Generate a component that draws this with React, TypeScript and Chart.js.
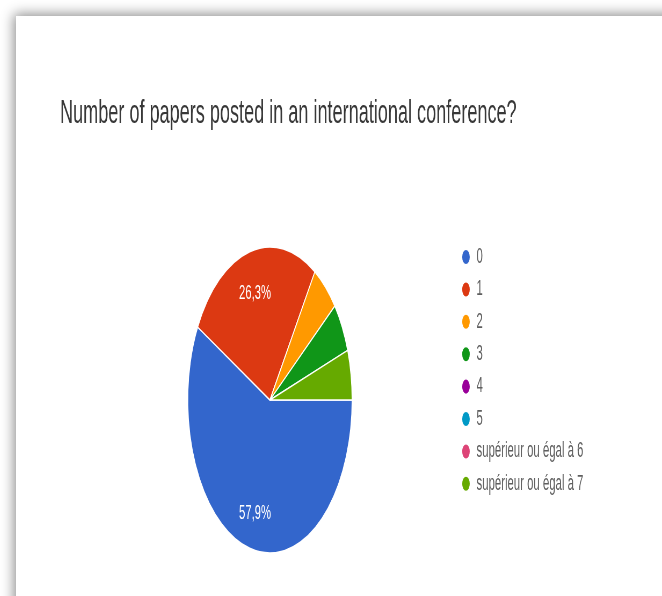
import React, { useEffect, useRef } from 'react';
import { Chart, registerables } from 'chart.js';

Chart.register(...registerables);

// ---- data ----
const TITLE = 'Number of papers posted in an international conference?';
const CATEGORIES = ['0', '1', '2', '3', '4', '5', 'supérieur ou égal à 6', 'supérieur ou égal à 7'];
const RESPONSES = [11, 5, 1, 1, 0, 0, 0, 1];
const SLICE_COLORS = ['#3366cc', '#dc3912', '#ff9900', '#109618', '#990099', '#0099c6', '#dd4477', '#66aa00'];

// ---- geometry (the reference picture is horizontally compressed) ----
const CSS_W = 646;
const CSS_H = 580;
const SQUISH = 0.537;
const INNER_W = Math.round(CSS_W / SQUISH);
const FONT = "'Liberation Sans', Arial, sans-serif";

const percentLabels = {
  id: 'percentLabels',
  afterDatasetsDraw(chart: any) {
    const ctx = chart.ctx;
    const meta = chart.getDatasetMeta(0);
    const data = chart.data.datasets[0].data as number[];
    const total = data.reduce((a, b) => a + b, 0);
    ctx.save();
    ctx.fillStyle = '#ffffff';
    ctx.font = `21px ${FONT}`;
    ctx.textAlign = 'center';
    ctx.textBaseline = 'middle';
    meta.data.forEach((arc: any, i: number) => {
      const v = data[i];
      if (!total || v / total < 0.1) return;
      const p = arc.getProps(['x', 'y', 'startAngle', 'endAngle', 'outerRadius'], true);
      const mid = (p.startAngle + p.endAngle) / 2;
      const r = p.outerRadius * 0.74;
      const txt = ((v / total) * 100).toFixed(1).replace('.', ',') + '%';
      ctx.fillText(txt, p.x + Math.cos(mid) * r, p.y + Math.sin(mid) * r + 3);
    });
    ctx.restore();
  },
};

function PieChart() {
  const ref = useRef<HTMLCanvasElement | null>(null);
  useEffect(() => {
    if (!ref.current) return;
    const chart = new Chart(ref.current, {
      type: 'pie',
      data: {
        labels: CATEGORIES,
        datasets: [
          {
            data: RESPONSES,
            backgroundColor: SLICE_COLORS,
            borderColor: '#ffffff',
            borderWidth: 1.5,
            radius: 153,
          } as any,
        ],
      },
      options: {
        animation: false,
        responsive: false,
        maintainAspectRatio: false,
        devicePixelRatio: 1,
        rotation: 90,
        layout: { padding: { left: 82, right: 136.4, top: 0, bottom: 31.2 } },
        plugins: {
          title: {
            display: true,
            text: TITLE,
            align: 'start',
            color: '#383838',
            font: { family: FONT, size: 33.7, weight: 'normal', lineHeight: 1.2 },
            padding: { top: 77.4, bottom: 101.4 },
          },
          subtitle: {
            display: true,
            position: 'left',
            text: '',
            font: { size: 1, lineHeight: 1 },
            padding: { top: 45, bottom: 0 },
          },
          legend: {
            position: 'right',
            align: 'start',
            fullSize: false,
            maxWidth: 500,
            labels: {
              usePointStyle: true,
              pointStyle: 'circle',
              boxWidth: 18,
              boxHeight: 11,
              padding: 11.2,
              color: '#5f5f5f',
              font: { family: FONT, size: 21.2 },
            },
          },
          tooltip: { enabled: false },
        },
      } as any,
      plugins: [percentLabels],
    });
    return () => chart.destroy();
  }, []);
  return (
    <canvas
      ref={ref}
      width={INNER_W}
      height={CSS_H}
      style={{ width: CSS_W + 'px', height: CSS_H + 'px', display: 'block' }}
    />
  );
}

export default function App() {
  return (
    <div
      style={{
        position: 'fixed',
        left: 0,
        top: 0,
        width: 662,
        height: 596,
        overflow: 'hidden',
        background: '#ffffff',
      }}
    >
      <div
        style={{
          position: 'absolute',
          left: 16,
          top: 16,
          width: 720,
          height: 660,
          background: '#ffffff',
          boxShadow: '0 0 12px 2px rgba(0,0,0,0.45)',
        }}
      >
        <PieChart />
      </div>
    </div>
  );
}
